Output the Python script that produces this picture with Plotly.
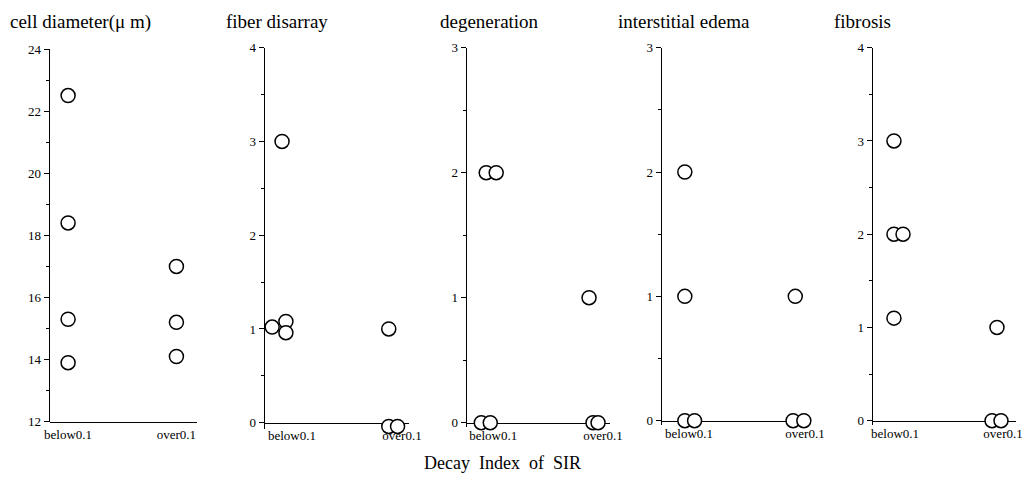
import plotly.graph_objects as go

W, H = 1026, 479

titles = ["cell diameter(\u03bc m)", "fiber disarray", "degeneration", "interstitial edema", "fibrosis"]
cat_labels = ["below0.1", "over0.1"]

# x = category position (0 = below0.1, 1 = over0.1) with small jitter, y = value
cell_x = [0.0, 0.0, 0.0, 0.0, 1.0, 1.0, 1.0]
cell_y = [22.5, 18.4, 15.3, 13.9, 17.0, 15.2, 14.1]

fiber_x = [-0.09, -0.18, -0.055, -0.055, 0.88, 0.88, 0.96]
fiber_y = [3.0, 1.02, 1.08, 0.96, 1.0, -0.04, -0.04]

degen_x = [-0.064, 0.027, -0.109, -0.027, 0.873, 0.909, 0.955]
degen_y = [2.0, 2.0, 0.0, 0.0, 1.0, 0.0, 0.0]

edema_x = [-0.037, -0.037, -0.037, 0.047, 0.916, 0.897, 0.99]
edema_y = [2.0, 1.0, 0.0, 0.0, 1.0, 0.0, 0.0]

fib_x = [-0.01, -0.01, 0.074, -0.01, 0.944, 0.898, 0.981]
fib_y = [3.0, 2.0, 2.0, 1.1, 1.0, 0.0, 0.0]

y_ranges = [[12, 24], [0, 4], [0, 3], [0, 3], [0, 4]]
y_dticks = [2, 1, 1, 1, 1]
y_minor = [1, 0.5, 0.5, 0.5, 0.5]
x_ranges = [[-0.167, 1.19], [-0.245, 1.064], [-0.239, 1.064], [-0.234, 1.0], [-0.204, 1.12]]

# layout geometry (pixels)
x_dom_px = [(50, 197), (265, 409), (467, 610), (662, 805), (873, 1016)]
y_dom_px = [(49, 421.7), (47.7, 422.7), (47.7, 422.7), (47.7, 420.7), (47.7, 420.7)]
y_ext_px = [0, 6, 4, 4, 4]  # y axis line runs a little below the x axis
title_x_px = [8, 224, 438, 616, 832]


def fx(p):
    return p / W


def fy(p):
    return 1 - p / H


xs = [cell_x, fiber_x, degen_x, edema_x, fib_x]
ys = [cell_y, fiber_y, degen_y, edema_y, fib_y]

FONT = "Liberation Serif"

fig = go.Figure()
layout = dict(
    width=W, height=H,
    margin=dict(l=0, r=0, t=0, b=0, pad=0, autoexpand=False),
    paper_bgcolor="white", plot_bgcolor="white",
    showlegend=False,
    font=dict(family=FONT, color="black", size=13),
)
annotations = []
for i in range(5):
    n = "" if i == 0 else str(i + 1)
    fig.add_trace(go.Scatter(
        x=xs[i], y=ys[i], mode="markers",
        xaxis="x" + n, yaxis="y" + n,
        marker=dict(symbol="circle", size=14, color="white",
                    line=dict(color="black", width=1.5)),
        cliponaxis=False, hoverinfo="skip",
    ))
    x0, x1 = x_dom_px[i]
    yt, yb = y_dom_px[i]
    lo, hi = y_ranges[i]
    upp = (hi - lo) / (yb - yt)
    ext = y_ext_px[i]
    layout["xaxis" + n] = dict(
        domain=[fx(x0), fx(x1)], range=x_ranges[i], anchor="free", position=fy(yb),
        tickvals=[0, 1], ticktext=cat_labels, ticks="",
        showline=True, linecolor="black", linewidth=1.5,
        showgrid=False, zeroline=False, layer="below traces",
        tickfont=dict(family=FONT, size=13, color="black"), fixedrange=True,
        automargin=False, ticklabeloverflow="allow",
    )
    layout["yaxis" + n] = dict(
        domain=[fy(yb + ext), fy(yt)], range=[lo - ext * upp, hi], anchor="x" + n,
        dtick=y_dticks[i], tick0=lo, ticks="outside", ticklen=5,
        tickwidth=1, tickcolor="black",
        minor=dict(dtick=y_minor[i], tick0=lo, ticks="outside", ticklen=3,
                   tickcolor="black", tickwidth=1),
        showline=True, linecolor="black", linewidth=1.5,
        showgrid=False, zeroline=False, layer="below traces",
        tickfont=dict(family=FONT, size=13, color="black"), fixedrange=True,
        automargin=False,
    )
    annotations.append(dict(
        text=titles[i], x=fx(title_x_px[i]), y=fy(22),
        xref="paper", yref="paper", xanchor="left", yanchor="middle",
        showarrow=False, font=dict(family=FONT, size=19, color="black"),
    ))

annotations.append(dict(
    text="Decay  Index  of  SIR", x=fx(502), y=fy(463),
    xref="paper", yref="paper", xanchor="center", yanchor="middle",
    showarrow=False, font=dict(family=FONT, size=18, color="black"),
))
layout["annotations"] = annotations
fig.update_layout(**layout)
fig.write_html(
    "out.html",
    config={"displayModeBar": False, "staticPlot": True},
    post_script="document.body.style.margin='0';document.body.style.overflow='hidden';",
)
